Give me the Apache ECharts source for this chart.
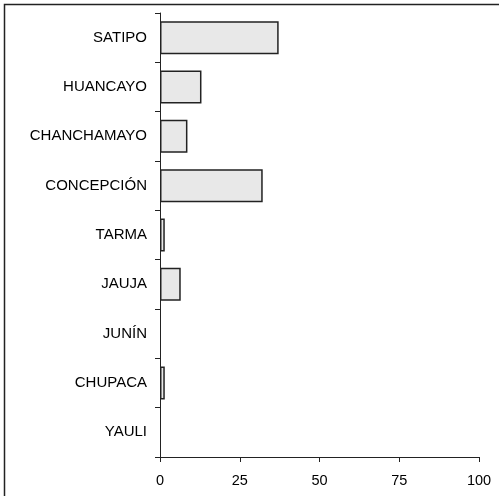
<!DOCTYPE html>
<html>
<head>
<meta charset="utf-8">
<script src="https://cdn.jsdelivr.net/npm/echarts@6/dist/echarts.min.js"></script>
<style>
html,body{margin:0;padding:0;background:#fff;}
#chart{width:499px;height:496px;}
</style>
</head>
<body>
<div id="chart"></div>
<script>
const categories = ['SATIPO','HUANCAYO','CHANCHAMAYO','CONCEPCIÓN','TARMA','JAUJA','JUNÍN','CHUPACA','YAULI'];
const values = [37.2, 13, 8.6, 32.2, 1.5, 6.5, 0, 1.5, 0];
const xTicks = [0, 25, 50, 75, 100];

const chart = echarts.init(document.getElementById('chart'), null, {renderer:'canvas'});
chart.setOption({
  animation: false,
  backgroundColor: '#fff',
  graphic: [{
    type: 'rect',
    shape: {x: 4.5, y: 4.5, width: 700, height: 700},
    style: {fill: 'none', stroke: '#222', lineWidth: 1.5},
    silent: true
  }],
  grid: {left: 160, right: 20, top: 13, bottom: 39, containLabel: false},
  xAxis: {
    type: 'value', min: xTicks[0], max: xTicks[xTicks.length-1], interval: 25,
    axisLine: {show: true, lineStyle: {color: '#222', width: 1}},
    axisTick: {show: true, length: 5, lineStyle: {color: '#222'}},
    axisLabel: {color: '#000', fontSize: 14.5, fontFamily: 'Liberation Sans, Arial, sans-serif', margin: 16},
    splitLine: {show: false}
  },
  yAxis: {
    type: 'category', data: categories, inverse: true,
    axisLine: {show: true, lineStyle: {color: '#222', width: 1}},
    axisTick: {show: true, length: 5, lineStyle: {color: '#222'}},
    axisLabel: {color: '#000', fontSize: 15, fontFamily: 'Liberation Sans, Arial, sans-serif', margin: 13}
  },
  series: [{
    type: 'bar', barWidth: 33,
    data: values.map(v => v === 0 ? {value: v, itemStyle: {borderWidth: 0, opacity: 0}} : v),
    itemStyle: {color: '#e8e8e8', borderColor: '#222', borderWidth: 1.5}
  }]
});
</script>
</body>
</html>
